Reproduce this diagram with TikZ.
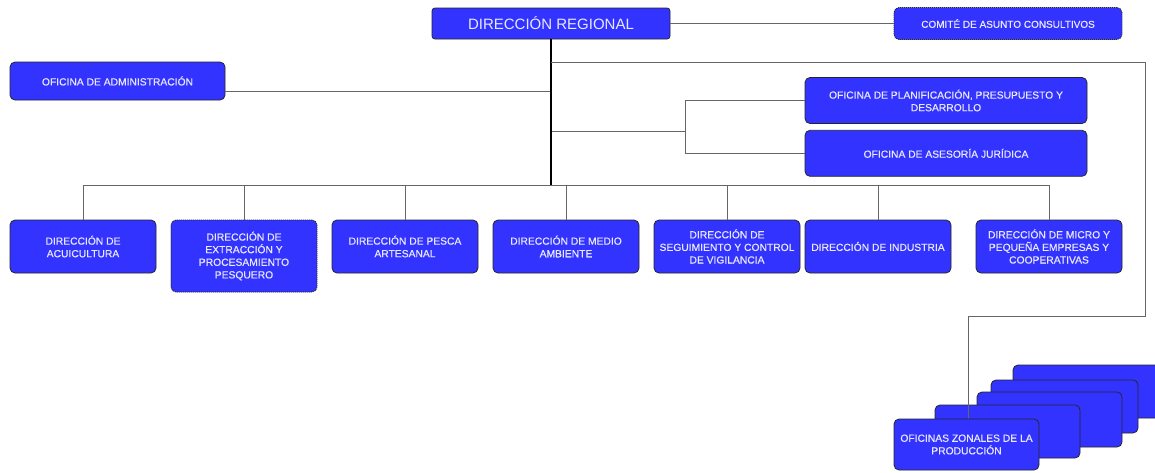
\documentclass[tikz,border=0pt]{standalone}
\usepackage{fontspec}
\setmainfont{Liberation Sans}
\newfontfamily\unitfont[FakeBold=0.5]{Liberation Sans}
\usepackage{tikz}
\usetikzlibrary{calc}
\definecolor{boxblue}{RGB}{51,51,255}
\definecolor{boxtext}{RGB}{232,232,255}

\begin{document}
\begin{tikzpicture}[x=1pt,y=-1pt,
		unit/.style={draw=black!85,line width=0.8pt,fill=boxblue,text=boxtext,rounded corners=5pt,align=center,inner sep=2pt,font=\unitfont\fontsize{10.3}{12.6}\selectfont},
		dotunit/.style={unit,dash pattern=on 1.2pt off 0.8pt},
		dirbox/.style={unit,minimum width=146pt,minimum height=53pt},
		zonebox/.style={unit,minimum width=146pt,minimum height=53pt},
		link/.style={draw=black!60,line width=0.8pt},
		trunk/.style={draw=black,line width=1.3pt}]

			\useasboundingbox (0,0) rectangle (1155,472);

			\coordinate (zstart) at (551,62);
			\coordinate (admjoin) at (551,91.7);
			\coordinate (ofjoin) at (551,131);
			\coordinate (ofsplit) at (685,131);
			\coordinate (bus) at (551,185);
			\coordinate (zturn1) at (1145,62);
			\coordinate (zturn2) at (1145,316);
			\coordinate (zturn3) at (968,316);

			\node[unit,minimum width=238pt,minimum height=31pt,rounded corners=3pt,font=\fontsize{15}{18}\selectfont] (dirreg) at (551,23.5) {DIRECCIÓN REGIONAL};
			\node[dotunit,minimum width=228pt,minimum height=32pt,font=\unitfont\fontsize{10}{12}\selectfont] (comite) at (1008,23.5) {COMITÉ DE ASUNTO CONSULTIVOS};
			\node[unit,minimum width=215pt,minimum height=38pt] (ofadm) at (117.5,81) {OFICINA DE ADMINISTRACIÓN};
			\node[unit,minimum width=282pt,minimum height=46pt] (ofplan) at (946,100.5) {OFICINA DE PLANIFICACIÓN, PRESUPUESTO Y\\DESARROLLO};
			\node[unit,minimum width=282pt,minimum height=46pt] (ofjur) at (946,153.3) {OFICINA DE ASESORÍA JURÍDICA};

			% direcciones de linea
			\node[dirbox] (acui) at (83,246.5) {DIRECCIÓN DE\\ACUICULTURA};
			\node[dirbox,dotunit,minimum height=72pt] (extr) at (244,256) {DIRECCIÓN DE\\EXTRACCIÓN Y\\PROCESAMIENTO\\PESQUERO};
			\node[dirbox] (pesca) at (405,246.5) {DIRECCIÓN DE PESCA\\ARTESANAL};
			\node[dirbox] (medio) at (566,246.5) {DIRECCIÓN DE MEDIO\\AMBIENTE};
			\node[dirbox] (segui) at (727,246.5) {DIRECCIÓN DE\\SEGUIMIENTO Y CONTROL\\DE VIGILANCIA};
			\node[dirbox] (indus) at (878,246.5) {DIRECCIÓN DE INDUSTRIA};
			\node[dirbox] (micro) at (1049,246.5) {DIRECCIÓN DE MICRO Y\\PEQUEÑA EMPRESAS Y\\COOPERATIVAS};

			\draw[link] (dirreg.east) -- (comite.west);
			\draw[link] (admjoin) -- (admjoin -| ofadm.east);
			\draw[link] (ofjoin) -- (ofsplit);
			\draw[link] (ofplan.west) -| (ofsplit);
			\draw[link] (ofjur.west) -| (ofsplit);
			\draw[link] (acui.north |- bus) -- (micro.north |- bus);
			\draw[link] (acui.north) -- (acui.north |- bus);
			\draw[link] (extr.north) -- (extr.north |- bus);
			\draw[link] (pesca.north) -- (pesca.north |- bus);
			\draw[link] (medio.north) -- (medio.north |- bus);
			\draw[link] (segui.north) -- (segui.north |- bus);
			\draw[link] (indus.north) -- (indus.north |- bus);
			\draw[link] (micro.north) -- (micro.north |- bus);
			\draw[trunk] (dirreg.south) -- (bus);

			% oficinas zonales (pila)
			\node[zonebox,minimum width=147pt] (zona1) at (1086.5,391.5) {};
			\node[zonebox,minimum width=147pt] (zona2) at (1064.5,406.5) {};
			\node[zonebox,minimum width=145pt,minimum height=55pt] (zona3) at (1049.5,419.5) {};
			\node[zonebox,minimum width=145pt] (zona4) at (1007.5,431.5) {};
			\draw[link] (zstart) -- (zturn1) -- (zturn2) -- (zturn3) -- (zturn3 |- zona4.north) -- ($(zturn3 |- zona4.north)+(0,14)$);
			\node[zonebox,minimum width=145pt,minimum height=51pt] (zonal) at (966.5,444.5) {OFICINAS ZONALES DE LA\\PRODUCCIÓN};

		\end{tikzpicture}
\end{document}
